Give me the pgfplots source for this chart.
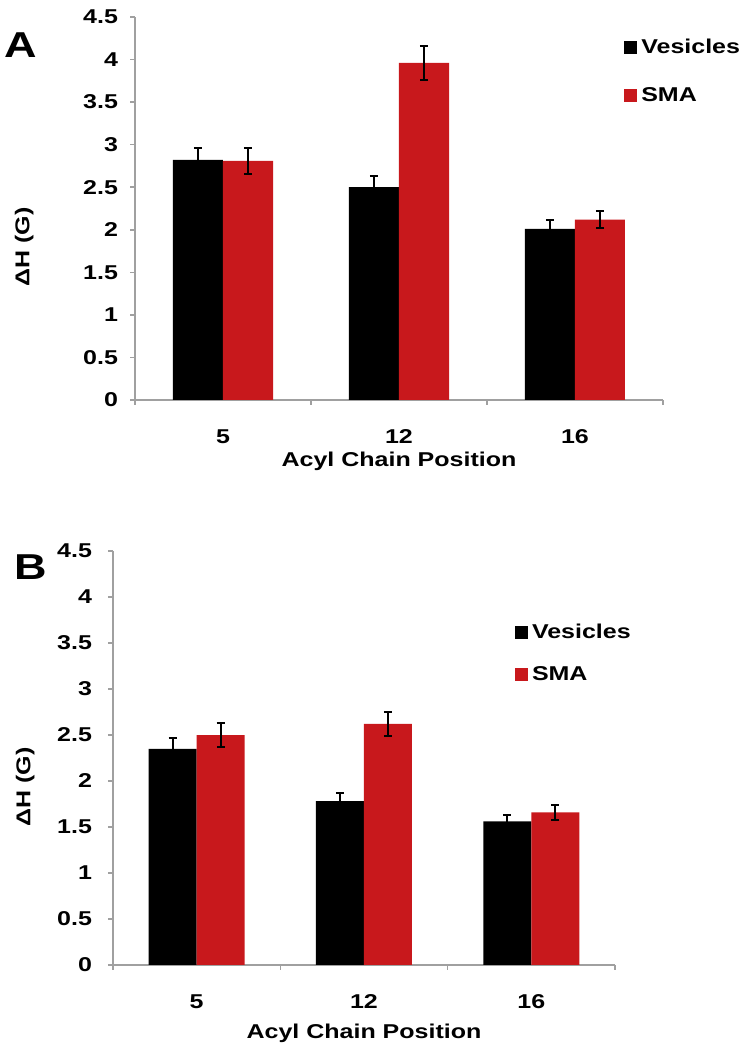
\documentclass[border=0pt]{standalone}
\usepackage{fontspec}
\setmainfont{Liberation Sans}[FakeStretch=1.25]
\usepackage{pgfplots}
\pgfplotsset{compat=1.18}

\definecolor{smared}{RGB}{200,24,28}
\definecolor{axgray}{RGB}{160,160,160}

\pgfplotsset{
  sqlegend/.style={legend image code/.code={\fill[##1] (0pt,-3.25pt) rectangle (6.5pt,3.25pt);}},
  panel/.style={
    scale only axis,
    anchor=south west,
    ybar=0pt,
    ymin=0, ymax=4.5,
    ytick={0,0.5,1,1.5,2,2.5,3,3.5,4,4.5},
    yticklabels={0,0.5,1,1.5,2,2.5,3,3.5,4,4.5},
    xmin=-0.5, xmax=2.5,
    xtick={0,1,2}, xticklabels={5,12,16},
    minor xtick={-0.5,0.5,1.5,2.5},
    axis x line*=bottom, axis y line*=left,
    axis line style={axgray, line width=0.8pt, -},
    major x tick style={draw=none},
    minor x tick style={axgray, line width=0.8pt},
    y tick style={axgray, line width=0.8pt},
    tick align=outside,
    major tick length=2.5pt, minor tick length=2.5pt,
    ticklabel style={font=\bfseries\fontsize{10}{11}\selectfont},
    xticklabel style={anchor=center},
    yticklabel style={anchor=east},
    label style={font=\bfseries\fontsize{10}{11}\selectfont},
    xlabel={Acyl Chain Position},
    ylabel={ΔH (G)},
    error bars/y dir=both,
    error bars/y explicit,
    error bars/error bar style={black, line width=1pt},
    error bars/error mark options={black, rotate=90, mark size=2pt, line width=1pt},
    legend style={draw=none, fill=none, anchor=north west, inner sep=0pt,
      font=\bfseries\fontsize{10}{11}\selectfont, legend cell align=left},
  },
}

\begin{document}
\begin{tikzpicture}
\useasboundingbox (0pt,0pt) rectangle (374pt,525pt);

% Panel A
\begin{axis}[panel,
    at={(67.5pt,325pt)}, width=264pt, height=191.5pt, bar width=25pt,
    xticklabel style={yshift=-16pt},
    yticklabel style={xshift=-2.5pt},
    xlabel style={at={(rel axis cs:0.5,-0.16)}, anchor=center},
    ylabel style={at={(rel axis cs:-0.21,0.40)}, anchor=center},
    legend style={at={(0.926,0.955)}, row sep=11.5pt},
]
\addplot[fill=black, draw=none, sqlegend] coordinates {
  (0,2.82) +- (0,0.14)
  (1,2.50) +- (0,0.13)
  (2,2.01) +- (0,0.11)
};
\addlegendentry{Vesicles}
\addplot[fill=smared, draw=none, sqlegend] coordinates {
  (0,2.81) +- (0,0.15)
  (1,3.96) +- (0,0.20)
  (2,2.12) +- (0,0.10)
};
\addlegendentry{SMA}
\end{axis}

% Panel B
\begin{axis}[panel,
    at={(56.5pt,42.5pt)}, width=251pt, height=207pt, bar width=24pt,
    xticklabel style={yshift=-16pt},
    yticklabel style={xshift=-4.5pt},
    xlabel style={at={(rel axis cs:0.5,-0.164)}, anchor=center},
    ylabel style={at={(rel axis cs:-0.175,0.43)}, anchor=center},
    legend style={at={(0.8,0.835)}, row sep=8.5pt},
]
\addplot[fill=black, draw=none, sqlegend] coordinates {
  (0,2.35) +- (0,0.12)
  (1,1.78) +- (0,0.09)
  (2,1.56) +- (0,0.07)
};
\addlegendentry{Vesicles}
\addplot[fill=smared, draw=none, sqlegend] coordinates {
  (0,2.50) +- (0,0.13)
  (1,2.62) +- (0,0.13)
  (2,1.66) +- (0,0.08)
};
\addlegendentry{SMA}
\end{axis}

\node[font=\bfseries\fontsize{18}{18}\selectfont] at (10.5pt,502.5pt) {A};
\node[font=\bfseries\fontsize{18}{18}\selectfont] at (15.5pt,241.5pt) {B};
\end{tikzpicture}
\end{document}
